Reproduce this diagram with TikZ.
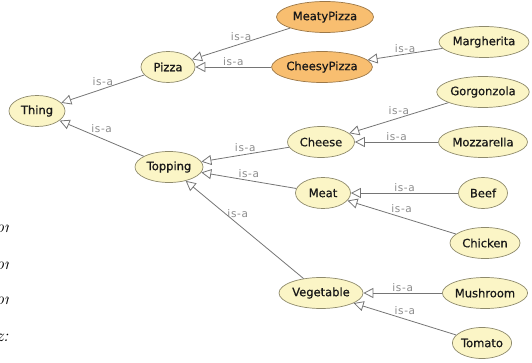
\documentclass[tikz,border=0pt]{standalone}
\usepackage{fontspec}
\usetikzlibrary{shapes.geometric,arrows.meta}
\newfontfamily\nodefont[FakeBold=0.7]{DejaVu Sans}
\newfontfamily\lblfont[LetterSpace=6]{DejaVu Sans}
\definecolor{clsfill}{HTML}{FBF5C6}
\definecolor{clsdraw}{HTML}{8E8A6C}
\definecolor{deffill}{HTML}{F8BE70}
\definecolor{defdraw}{HTML}{9C7848}
\definecolor{edgegray}{HTML}{757575}
\definecolor{lblgray}{HTML}{8C8C8C}
\tikzset{
  cls/.style={ellipse, draw=clsdraw, fill=clsfill, line width=0.7pt,
    minimum height=31pt, inner sep=0pt,
    font=\nodefont\fontsize{11.5}{13}\selectfont, text=black!90},
  defcls/.style={cls, draw=defdraw, fill=deffill},
  isa/.style={draw=edgegray, line width=0.8pt,
    -{Triangle[length=10pt,width=10pt,fill=white]}},
  lbl/.style={font=\lblfont\fontsize{10.5}{12}\selectfont, text=lblgray, inner sep=0pt},
  frag/.style={font=\itshape\fontsize{17}{19}\selectfont, inner sep=0pt, anchor=base west}
}
\begin{document}
\begin{tikzpicture}[x=1pt,y=-1pt]
\useasboundingbox (0,0) rectangle (532,363);
% nodes
\node[cls, minimum width=56pt] (thing) at (37,111) {Thing};
\node[cls, minimum width=54pt] (pizza) at (168,67) {Pizza};
\node[cls, minimum width=68pt] (topping) at (169,167) {Topping};
\node[defcls, minimum width=97pt] (meaty) at (325,17) {MeatyPizza};
\node[defcls, minimum width=97pt] (cheesy) at (322,67) {CheesyPizza};
\node[cls, minimum width=90pt] (marg) at (484,42) {Margherita};
\node[cls, minimum width=89pt] (gorg) at (483,92) {Gorgonzola};
\node[cls, minimum width=67pt] (cheese) at (321,142) {Cheese};
\node[cls, minimum width=89pt] (mozz) at (483,142) {Mozzarella};
\node[cls, minimum width=55pt] (meat) at (323,193) {Meat};
\node[cls, minimum width=49pt] (beef) at (483,193) {Beef};
\node[cls, minimum width=70pt] (chicken) at (485,243) {Chicken};
\node[cls, minimum width=84pt] (veg) at (321,293) {Vegetable};
\node[cls, minimum width=84pt] (mush) at (485,293) {Mushroom};
\node[cls, minimum width=58pt] (tomato) at (482,343) {Tomato};
% edges
\draw[isa] (pizza) -- node[lbl, pos=0.5, above=3pt] {is-a} (thing);
\draw[isa] (topping) -- node[lbl, pos=0.5, above=5pt] {is-a} (thing);
\draw[isa] (meaty) -- node[lbl, pos=0.5, above=3pt] {is-a} (pizza);
\draw[isa] (cheesy) -- node[lbl, pos=0.5, above=1pt] {is-a} (pizza);
\draw[isa] (marg) -- node[lbl, pos=0.5, above=1pt] {is-a} (cheesy);
\draw[isa] (cheese) -- node[lbl, pos=0.5, above=2pt] {is-a} (topping);
\draw[isa] (meat) -- node[lbl, pos=0.5, above=2pt] {is-a} (topping);
\draw[isa] (veg) -- node[lbl, pos=0.55, anchor=south, xshift=-1pt, yshift=7pt] {is-a} (topping);
\draw[isa] (gorg) -- node[lbl, pos=0.5, above=3pt] {is-a} (cheese);
\draw[isa] (mozz) -- node[lbl, pos=0.5, above=1pt] {is-a} (cheese);
\draw[isa] (beef) -- node[lbl, pos=0.5, above=1pt] {is-a} (meat);
\draw[isa] (chicken) -- node[lbl, pos=0.5, above=4pt] {is-a} (meat);
\draw[isa] (mush) -- node[lbl, pos=0.5, above=1pt] {is-a} (veg);
\draw[isa] (tomato) -- node[lbl, pos=0.5, above=4pt] {is-a} (veg);
% slices of text cut off at the left edge
\begin{scope}
\clip (0,200) rectangle (8.5,363);
\node[frag] (f1) at (-4.5,233) {on};
\node[frag] (f2) at (-4.5,269) {on};
\node[frag] (f3) at (-4.5,304) {on};
\node[frag] (f4) at (-3.5,341) {z:};
\end{scope}
\end{tikzpicture}
\end{document}
